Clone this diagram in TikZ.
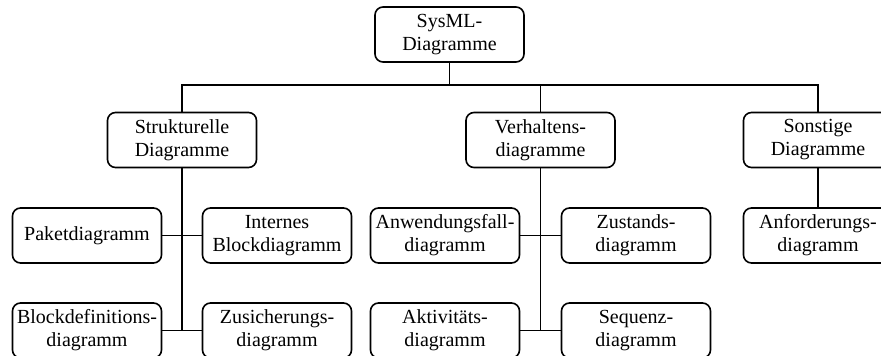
\documentclass[tikz,border=0pt]{standalone}
\usepackage{fontspec}
\setmainfont{Liberation Serif}
\begin{document}
\begin{tikzpicture}[x=1pt,y=-1pt,
  box/.style={draw, rounded corners=8pt, line width=1.6pt,
    minimum width=149pt, minimum height=55pt, inner sep=0pt,
    align=center, font=\fontsize{20}{23}\selectfont},
  link/.style={line width=1.7pt}]
\clip (0,0) rectangle (881,356);

% root
\node[box] (root) at (449.5,34.5) {SysML-\\Diagramme};

% categories
\node[box] (struct) at (182,140)   {Strukturelle\\Diagramme};
\node[box] (behav)  at (540.5,140) {Verhaltens-\\diagramme};
\node[box] (other)  at (818,140)   {Sonstige\\Diagramme};

% structural diagrams
\node[box] (pkg)  at (87,235.5)  {Paketdiagramm};
\node[box] (ibd)  at (277,235.5) {Internes\\Blockdiagramm};
\node[box] (bdd)  at (87,330.5)  {Blockdefinitions-\\diagramm};
\node[box] (par)  at (277,330.5) {Zusicherungs-\\diagramm};

% behavioural diagrams
\node[box] (uc)   at (445,235.5) {Anwendungsfall-\\diagramm};
\node[box] (stm)  at (636,235.5) {Zustands-\\diagramm};
\node[box] (act)  at (445,330.5) {Aktivitäts-\\diagramm};
\node[box] (sd)   at (636,330.5) {Sequenz-\\diagramm};

% other diagrams
\node[box] (req)  at (818,235.5) {Anforderungs-\\diagramm};

% tree connectors
\coordinate (bus) at (449.5,85);
\draw[link] (root.south) -- (bus);
\draw[link] (struct.north) |- (bus) -| (other.north);
\draw[link] (behav.north) -- (behav.north |- bus);

\coordinate (sEnd) at (182,330.5);
\coordinate (bEnd) at (540.5,330.5);
\draw[link] (struct.south) -- (sEnd);
\draw[link] (behav.south) -- (bEnd);
\draw[link] (other.south) -- (req.north);

\draw[link] (pkg.east) -- (ibd.west);
\draw[link] (bdd.east) -- (par.west);
\draw[link] (uc.east) -- (stm.west);
\draw[link] (act.east) -- (sd.west);
\end{tikzpicture}
\end{document}
